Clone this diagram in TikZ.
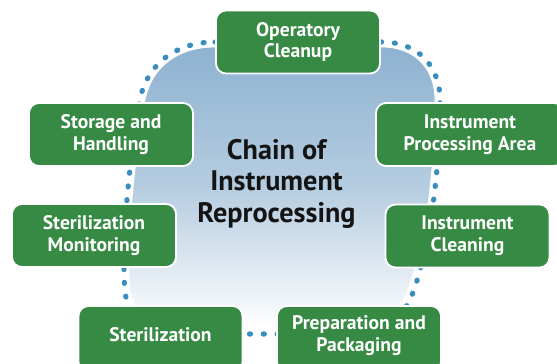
\documentclass[tikz,border=0pt]{standalone}
\usepackage{fontspec}
\setmainfont{PT Sans}
\definecolor{boxgreen}{HTML}{378A44}
\definecolor{dotblue}{HTML}{3A8DC0}
\definecolor{blobtop}{HTML}{8EB2D0}
\begin{document}
\begin{tikzpicture}[x=1pt,y=-1pt,
  stepbox/.style={draw=white,line width=1.8pt,fill=boxgreen,rounded corners=10pt,
    minimum width=164pt,minimum height=63pt,align=center,text=white,
    font=\fontsize{19.6}{21.6}\selectfont\bfseries},
  boxtext/.style={align=center,text=white,font=\fontsize{19.6}{21.6}\selectfont\bfseries},
  dotline/.style={draw=dotblue,line width=5.2pt,line cap=round,dash pattern=on 1pt off 12.8pt}]
\useasboundingbox (0,0) rectangle (557,364);
% blob
\path[top color=blobtop,bottom color=white,middle color=blobtop!65!white]
  (215,47) -- (382,47) .. controls (414,47) and (435,68) .. (435,100)
  .. controls (435,170) and (425,250) .. (405,296)
  .. controls (392,322) and (370,329) .. (335,329) -- (225,329)
  .. controls (170,329) and (135,318) .. (130,292)
  .. controls (126,245) and (134,160) .. (145,100)
  .. controls (152,65) and (180,47) .. (215,47) -- cycle;
\draw[white,line width=0.8pt]
  (215,47) -- (382,47) .. controls (414,47) and (435,68) .. (435,100)
  .. controls (435,170) and (425,250) .. (405,296)
  .. controls (392,322) and (370,329) .. (335,329) -- (225,329)
  .. controls (170,329) and (135,318) .. (130,292)
  .. controls (126,245) and (134,160) .. (145,100)
  .. controls (152,65) and (180,47) .. (215,47) -- cycle;
% dotted ring
\draw[dotline]
  (215,42) -- (382,42) .. controls (418,42) and (440,66) .. (440,100)
  .. controls (440,170) and (430,252) .. (410,300)
  .. controls (397,327) and (372,334) .. (335,334) -- (225,334)
  .. controls (168,334) and (128,322) .. (125,292)
  .. controls (121,245) and (129,160) .. (140,99)
  .. controls (148,62) and (178,42) .. (215,42) -- cycle;
% center title
\node[align=center,font=\fontsize{28.2}{31.5}\selectfont\bfseries,text=black!92] (title) at (276.5,183.5)
  {Chain of\\Instrument\\Reprocessing};
% boxes
\node[stepbox] (oc) at (298,42) {Operatory\\Cleanup};
\node[stepbox] (sh) at (111,134.5) {Storage and\\Handling};
\node[stepbox,minimum width=188pt] (ipa) at (470,134.5) {Instrument\\Processing Area};
\node[stepbox] (sm) at (94,235.5) {Sterilization\\Monitoring};
\node[stepbox] (ic) at (467.5,236) {Instrument\\Cleaning};
\node[stepbox,minimum height=66pt] (st) at (160.5,339) {};
\node[boxtext] (sttext) at ([yshift=4pt]st.center) {Sterilization};
\node[stepbox,minimum height=66pt] (pp) at (359,339) {};
\node[boxtext] (pptext) at ([yshift=3.5pt]pp.center) {Preparation and\\Packaging};
\end{tikzpicture}
\end{document}
